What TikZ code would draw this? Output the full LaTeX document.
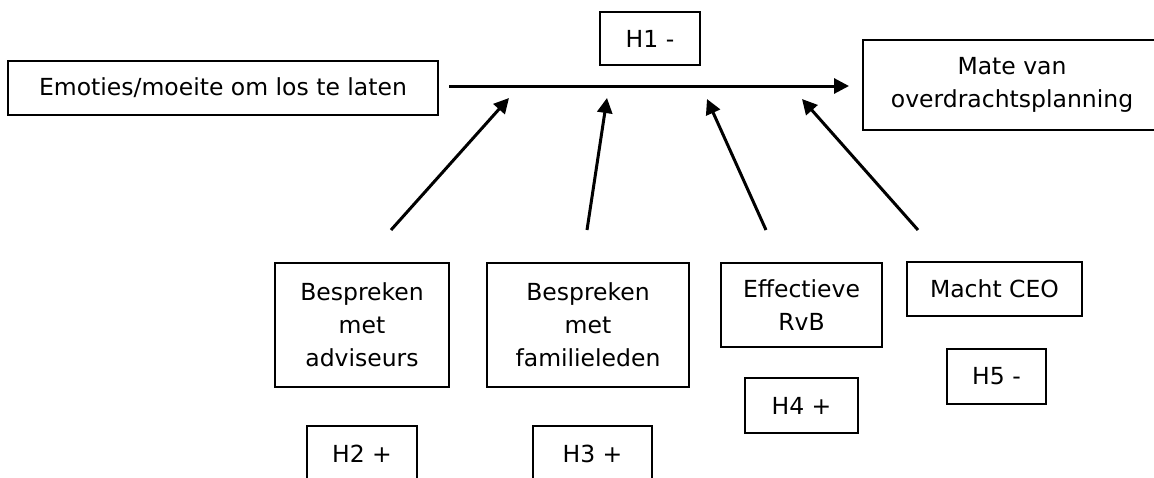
\documentclass[tikz,border=0pt]{standalone}
\usepackage{fontspec}
\setmainfont{DejaVu Sans}
\usetikzlibrary{arrows.meta}
\tikzset{
  box/.style={draw=black, line width=1.3pt, inner sep=0pt, align=center,
    font=\fontsize{23.5}{33}\selectfont},
  conn/.style={draw=black, line width=3pt, -{Triangle[length=15pt,width=15pt]}}
}
\begin{document}
\begin{tikzpicture}[x=1pt,y=-1pt]
\useasboundingbox (0,0) rectangle (1154,477);
\clip (0,0) rectangle (1154,477);
% top row
\node[box, minimum width=430pt, minimum height=54pt] (emo) at (223,88) {Emoties/moeite om los te laten};
\node[box, minimum width=100pt, minimum height=53pt] (h1) at (650,38.5) {H1 -};
\node[box, minimum width=298pt, minimum height=90pt] (mate) at (1012,85) {Mate van\\overdrachtsplanning};
% bottom row
\node[box, minimum width=174pt, minimum height=124pt] (adv) at (362,325) {Bespreken\\met\\adviseurs};
\node[box, minimum width=202pt, minimum height=124pt] (fam) at (588,325) {Bespreken\\met\\familieleden};
\node[box, minimum width=161pt, minimum height=84pt] (eff) at (801.5,305) {Effectieve\\RvB};
\node[box, minimum width=175pt, minimum height=54pt] (ceo) at (994.5,289) {Macht CEO};
\node[box, minimum width=110pt, minimum height=55pt] (h2) at (362,453.5) {H2 +};
\node[box, minimum width=119pt, minimum height=55pt] (h3) at (592.5,453.5) {H3 +};
\node[box, minimum width=113pt, minimum height=55pt] (h4) at (801.5,405.5) {H4 +};
\node[box, minimum width=99pt, minimum height=55pt] (h5) at (996.5,376.5) {H5 -};
% connector end points
\coordinate (ms) at (449,86);
\coordinate (me) at (849,86);
\coordinate (a1s) at (391,230);
\coordinate (a1e) at (509,98);
\coordinate (a2s) at (587,230);
\coordinate (a2e) at (607,98);
\coordinate (a3s) at (766,230);
\coordinate (a3e) at (707,99);
\coordinate (a4s) at (918,230);
\coordinate (a4e) at (802,99);
\draw[conn] (ms) -- (me);
\draw[conn] (a1s) -- (a1e);
\draw[conn] (a2s) -- (a2e);
\draw[conn] (a3s) -- (a3e);
\draw[conn] (a4s) -- (a4e);
\end{tikzpicture}
\end{document}
